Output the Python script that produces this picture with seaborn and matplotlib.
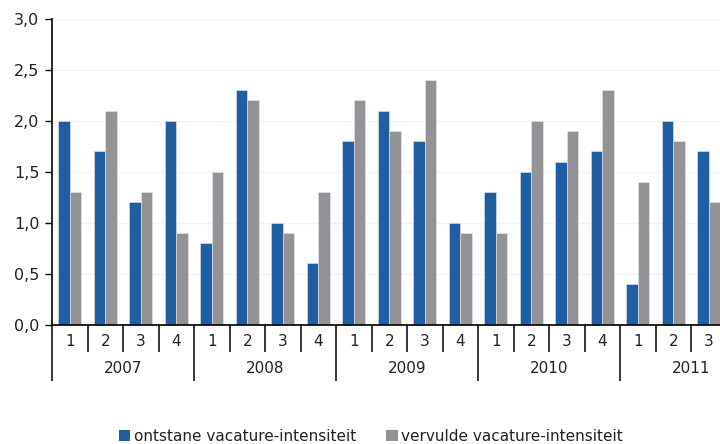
import matplotlib
matplotlib.use("Agg")
import matplotlib.pyplot as plt
import matplotlib.transforms as mtransforms
from matplotlib.patches import Patch
import seaborn as sns
import pandas as pd

years = ["2007", "2008", "2009", "2010", "2011"]
quarters_per_year = [4, 4, 4, 4, 3]
series_names = ["ontstane vacature-intensiteit", "vervulde vacature-intensiteit"]
ontstane = [2.0, 1.7, 1.2, 2.0,
            0.8, 2.3, 1.0, 0.6,
            1.8, 2.1, 1.8, 1.0,
            1.3, 1.5, 1.6, 1.7,
            0.4, 2.0, 1.7]
vervulde = [1.3, 2.1, 1.3, 0.9,
            1.5, 2.2, 0.9, 1.3,
            2.2, 1.9, 2.4, 0.9,
            0.9, 2.0, 1.9, 2.3,
            1.4, 1.8, 1.2]
colors = ["#1f5fa1", "#929297"]

cats, qlabels = [], []
for y, n in zip(years, quarters_per_year):
    for q in range(1, n + 1):
        cats.append(f"{y}-{q}")
        qlabels.append(str(q))

df = pd.DataFrame({
    "cat": cats * 2,
    "value": ontstane + vervulde,
    "series": [series_names[0]] * len(cats) + [series_names[1]] * len(cats),
})

sns.set_theme(style="white")
plt.rcParams["font.family"] = ["DejaVu Sans"]

fig = plt.figure(figsize=(7.2, 4.44), dpi=100)
W, H = 720, 444
left_px, right_px, top_px, bot_px = 52, 726.5, 19, 324.5
ax = fig.add_axes([left_px / W, 1 - bot_px / H, (right_px - left_px) / W, (bot_px - top_px) / H])

sns.barplot(data=df, x="cat", y="value", hue="series", order=cats,
            hue_order=series_names, palette=colors, width=0.65, saturation=1,
            edgecolor="#e8e8ee", linewidth=0.4, legend=False, ax=ax)

ax.set_xlim(-0.5, len(cats) - 0.5)
ax.set_ylim(0, 3.0)
ax.set_yticks([0, 0.5, 1.0, 1.5, 2.0, 2.5, 3.0])
ax.set_yticklabels([f"{v:.1f}".replace(".", ",") for v in [0, 0.5, 1.0, 1.5, 2.0, 2.5, 3.0]],
                   fontsize=11.5, color="#222222")
ax.yaxis.grid(True, color="#f3f3f3", linewidth=1)
ax.set_axisbelow(True)
ax.tick_params(axis="y", left=True, length=5, width=1, color="black", pad=4)
ax.set_xticks([])
ax.set_xlabel("")
ax.set_ylabel("")
for s in ["top", "right"]:
    ax.spines[s].set_visible(False)
for s in ["left", "bottom"]:
    ax.spines[s].set_visible(True)
    ax.spines[s].set_color("black")
    ax.spines[s].set_linewidth(1.2)

trans = mtransforms.blended_transform_factory(ax.transData, ax.transAxes)
ph = bot_px - top_px
q_depth = -27 / ph
y_depth = -56 / ph

# quarter labels and separators
for i, ql in enumerate(qlabels):
    ax.text(i, -16.5 / ph, ql, transform=trans, ha="center", va="center",
            fontsize=11, color="#222222")
year_bounds = []
pos = -0.5
for n in quarters_per_year:
    year_bounds.append(pos)
    pos += n
for i in range(len(cats)):
    b = i - 0.5
    depth = y_depth if b in year_bounds else q_depth
    ax.plot([b, b], [0, depth], transform=trans, color="black", lw=1.1,
            clip_on=False, solid_capstyle="butt")

# year labels
start = 0
for y, n in zip(years, quarters_per_year):
    center = start + 1.5
    ax.text(center, -43.5 / ph, y, transform=trans, ha="center", va="center",
            fontsize=11, color="#222222")
    start += n

handles = [Patch(facecolor=c, edgecolor="none") for c in colors]
fig.legend(handles, series_names, loc="center", bbox_to_anchor=(0.515, 1 - 436 / H),
           ncol=2, frameon=False, fontsize=11, handlelength=0.75, handleheight=0.75,
           handletextpad=0.2, columnspacing=2.0, labelcolor="#222222")

fig.savefig("out.png", dpi=100)
